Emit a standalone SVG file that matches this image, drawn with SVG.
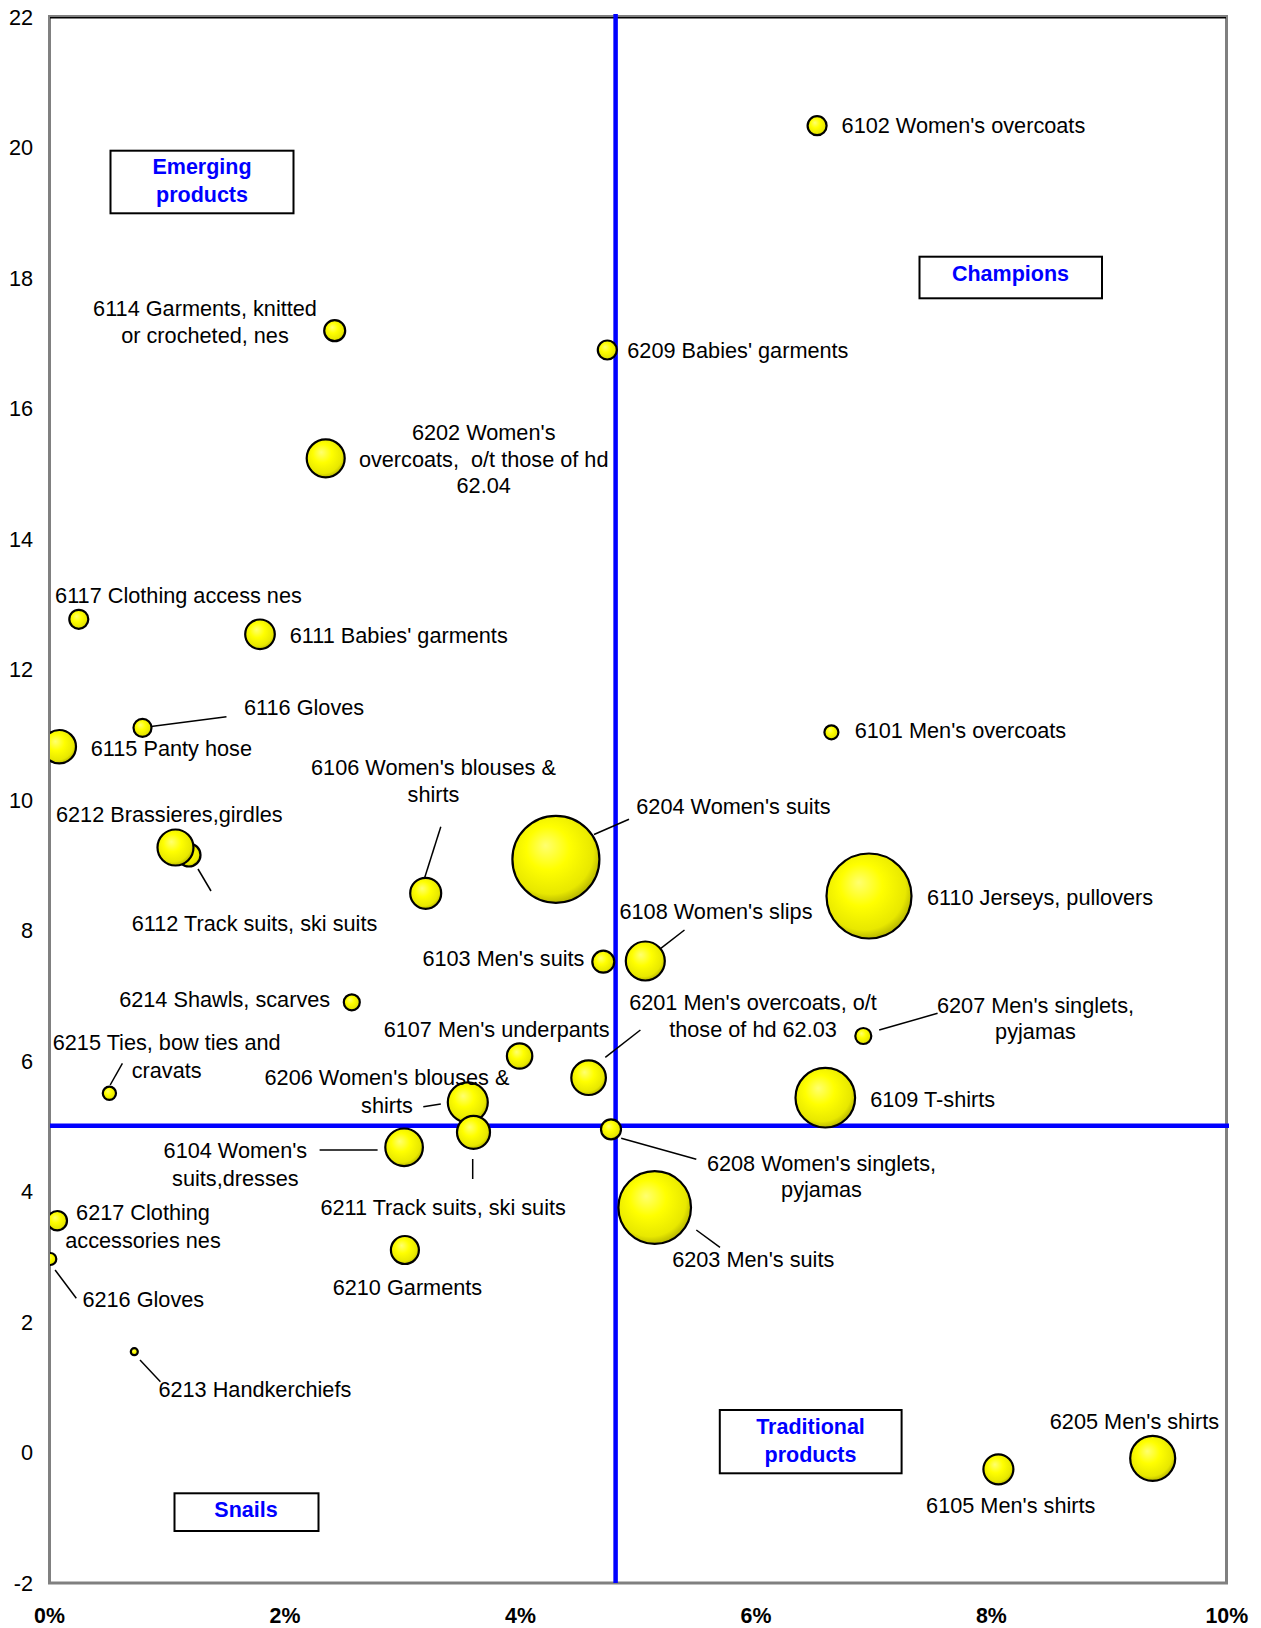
<svg xmlns="http://www.w3.org/2000/svg" width="1261" height="1628" viewBox="0 0 1261 1628">
<style>
text{font-family:"Liberation Sans",Arial,sans-serif;font-size:21.7px;fill:#000}
.m{text-anchor:middle}
.e{text-anchor:end}
.b{font-weight:bold;font-size:21.33px}
.q{font-weight:bold;font-size:21.5px;fill:#0000FF;text-anchor:middle}
.bub{fill:url(#yg);stroke:#000;stroke-width:2.2}
.lead{stroke:#000;stroke-width:1.5;fill:none}
.box{fill:#fff;stroke:#000;stroke-width:2}
.blue{stroke:#0000FF;stroke-width:4.5;fill:none}
</style>
<defs>
<radialGradient id="yg" cx="0.45" cy="0.42" r="0.62" fx="0.38" fy="0.34">
<stop offset="0" stop-color="#FFFF70"/>
<stop offset="0.4" stop-color="#FFFF00"/>
<stop offset="0.8" stop-color="#E8E800"/>
<stop offset="1" stop-color="#A8A800"/>
</radialGradient>
<clipPath id="plot"><rect x="50" y="17" width="1177" height="1566"/></clipPath>
</defs>
<rect x="0" y="0" width="1261" height="1628" fill="#fff"/>
<g id="frame">
<rect x="49.5" y="16.5" width="1177" height="1566.5" fill="#fff" stroke="#808080" stroke-width="3"/>
<line x1="50" y1="17.8" x2="1226" y2="17.8" stroke="#000" stroke-width="1.5"/>
</g>
<g id="axis-y">
<text class="e" x="33" y="24.9">22</text>
<text class="e" x="33" y="155.4">20</text>
<text class="e" x="33" y="285.9">18</text>
<text class="e" x="33" y="416.4">16</text>
<text class="e" x="33" y="546.9">14</text>
<text class="e" x="33" y="677.4">12</text>
<text class="e" x="33" y="807.9">10</text>
<text class="e" x="33" y="938.4">8</text>
<text class="e" x="33" y="1068.9">6</text>
<text class="e" x="33" y="1199.4">4</text>
<text class="e" x="33" y="1329.9">2</text>
<text class="e" x="33" y="1460.4">0</text>
<text class="e" x="33" y="1590.9">-2</text>
</g>
<g id="axis-x">
<text class="m b" x="49.5" y="1623.3">0%</text>
<text class="m b" x="285" y="1623.3">2%</text>
<text class="m b" x="520.5" y="1623.3">4%</text>
<text class="m b" x="756" y="1623.3">6%</text>
<text class="m b" x="991.3" y="1623.3">8%</text>
<text class="m b" x="1226.8" y="1623.3">10%</text>
</g>
<g id="quadrant-lines">
<line class="blue" x1="615.6" y1="14" x2="615.6" y2="1583"/>
<line class="blue" x1="50" y1="1125.7" x2="1229" y2="1125.7"/>
</g>
<g id="quadrant-emerging">
<rect class="box" x="110.5" y="150.7" width="183" height="62.6"/>
<text class="q" x="202" y="174.3">Emerging</text>
<text class="q" x="202" y="202.3">products</text>
</g>
<g id="quadrant-champions">
<rect class="box" x="919.5" y="256.7" width="182.5" height="41.6"/>
<text class="q" x="1010.5" y="281">Champions</text>
</g>
<g id="quadrant-snails">
<rect class="box" x="174.5" y="1493.3" width="144" height="37.7"/>
<text class="q" x="246" y="1516.7">Snails</text>
</g>
<g id="quadrant-traditional">
<rect class="box" x="719.8" y="1410" width="181.8" height="63.3"/>
<text class="q" x="810.5" y="1434.3">Traditional</text>
<text class="q" x="810.5" y="1461.7">products</text>
</g>
<g id="bubbles" clip-path="url(#plot)">
<g id="n6102"><circle class="bub" cx="817.1" cy="125.7" r="9.5"/></g>
<g id="n6114"><circle class="bub" cx="334.7" cy="330.7" r="10.5"/></g>
<g id="n6209"><circle class="bub" cx="607.3" cy="350" r="9.5"/></g>
<g id="n6202"><circle class="bub" cx="325.7" cy="458.3" r="19"/></g>
<g id="n6117"><circle class="bub" cx="78.8" cy="619.3" r="9.5"/></g>
<g id="n6111"><circle class="bub" cx="260" cy="634.3" r="14.8"/></g>
<g id="n6116"><circle class="bub" cx="142.5" cy="727.8" r="9"/></g>
<g id="n6115"><circle class="bub" cx="59.3" cy="746.7" r="16.7"/></g>
<g id="n6101"><circle class="bub" cx="831.4" cy="732.3" r="7"/></g>
<g id="n6112"><circle class="bub" cx="189" cy="855" r="11.5"/></g>
<g id="n6212"><circle class="bub" cx="175.5" cy="847.5" r="18"/></g>
<g id="n6106"><circle class="bub" cx="425.7" cy="893.3" r="15.5"/></g>
<g id="n6204"><circle class="bub" cx="555.9" cy="859.3" r="43.5"/></g>
<g id="n6110"><circle class="bub" cx="869" cy="896" r="42.5"/></g>
<g id="n6103"><circle class="bub" cx="603.3" cy="961.7" r="11"/></g>
<g id="n6108"><circle class="bub" cx="645.3" cy="961" r="19.5"/></g>
<g id="n6214"><circle class="bub" cx="351.8" cy="1002.3" r="8"/></g>
<g id="n6207"><circle class="bub" cx="863.3" cy="1036" r="8"/></g>
<g id="n6107"><circle class="bub" cx="519.6" cy="1056" r="12.7"/></g>
<g id="n6201"><circle class="bub" cx="588.6" cy="1077.7" r="17.3"/></g>
<g id="n6215"><circle class="bub" cx="109.4" cy="1093.3" r="6.6"/></g>
<g id="n6109"><circle class="bub" cx="825.3" cy="1097.7" r="29.8"/></g>
<g id="n6206"><circle class="bub" cx="467.8" cy="1102.3" r="20"/></g>
<g id="n6208"><circle class="bub" cx="611" cy="1129.3" r="10"/></g>
<g id="n6211"><circle class="bub" cx="473.5" cy="1132.3" r="16.5"/></g>
<g id="n6104"><circle class="bub" cx="404.1" cy="1147.3" r="18.8"/></g>
<g id="n6203"><circle class="bub" cx="654.7" cy="1207.5" r="36.3"/></g>
<g id="n6217"><circle class="bub" cx="57.3" cy="1220.7" r="9.7"/></g>
<g id="n6210"><circle class="bub" cx="404.9" cy="1250" r="14"/></g>
<g id="n6216"><circle class="bub" cx="50.3" cy="1259" r="6"/></g>
<g id="n6213"><circle class="bub" cx="134.3" cy="1351.7" r="3.5"/></g>
<g id="n6205"><circle class="bub" cx="1152.7" cy="1458.3" r="22.5"/></g>
<g id="n6105"><circle class="bub" cx="998.4" cy="1469.3" r="15"/></g>
</g>
<g id="connectors">
<line class="lead" x1="151" y1="726.5" x2="226.5" y2="716.7"/>
<line class="lead" x1="198" y1="869" x2="211" y2="891"/>
<line class="lead" x1="424.5" y1="878.3" x2="440.8" y2="826.7"/>
<line class="lead" x1="594" y1="834.5" x2="629" y2="819.3"/>
<line class="lead" x1="660.8" y1="948.3" x2="684.5" y2="930"/>
<line class="lead" x1="879.2" y1="1030" x2="937.6" y2="1013.3"/>
<line class="lead" x1="605.3" y1="1057.3" x2="640.4" y2="1030"/>
<line class="lead" x1="110.2" y1="1085" x2="122.4" y2="1063.3"/>
<line class="lead" x1="423.3" y1="1106.7" x2="440.8" y2="1104"/>
<line class="lead" x1="472.7" y1="1159" x2="472.7" y2="1179"/>
<line class="lead" x1="319.6" y1="1150" x2="377.6" y2="1150"/>
<line class="lead" x1="621.2" y1="1138.3" x2="696.3" y2="1159.3"/>
<line class="lead" x1="696.3" y1="1230" x2="720" y2="1247.3"/>
<line class="lead" x1="55.1" y1="1270" x2="76.3" y2="1298.3"/>
<line class="lead" x1="140" y1="1360" x2="160.4" y2="1381.7"/>
</g>
<g id="labels">
<text id="t6102" x="841.6" y="133.3">6102 Women's overcoats</text>
<text id="t6114" class="m"><tspan x="205" y="316">6114 Garments, knitted</tspan><tspan x="205" y="342.7">or crocheted, nes</tspan></text>
<text id="t6209" x="627.3" y="358.3">6209 Babies' garments</text>
<text id="t6202" class="m" xml:space="preserve"><tspan x="483.7" y="440">6202 Women's</tspan><tspan x="483.7" y="466.7">overcoats,  o/t those of hd</tspan><tspan x="483.7" y="493.3">62.04</tspan></text>
<text id="t6117" x="55.1" y="602.7">6117 Clothing access nes</text>
<text id="t6111" x="289.8" y="643.3">6111 Babies' garments</text>
<text id="t6116" x="244" y="715.3">6116 Gloves</text>
<text id="t6115" x="90.8" y="755.7">6115 Panty hose</text>
<text id="t6101" x="854.7" y="738.3">6101 Men's overcoats</text>
<text id="t6106" class="m"><tspan x="433.5" y="775">6106 Women's blouses &amp;</tspan><tspan x="433.5" y="801.7">shirts</tspan></text>
<text id="t6204" x="636.3" y="813.5">6204 Women's suits</text>
<text id="t6212" x="56" y="821.7">6212 Brassieres,girdles</text>
<text id="t6110" x="926.9" y="905">6110 Jerseys, pullovers</text>
<text id="t6112" x="131.8" y="930.7">6112 Track suits, ski suits</text>
<text id="t6108" x="619.5" y="919.3">6108 Women's slips</text>
<text id="t6103" x="422.4" y="965.7">6103 Men's suits</text>
<text id="t6214" x="119.2" y="1006.7">6214 Shawls, scarves</text>
<text id="t6201" class="m"><tspan x="753" y="1010">6201 Men's overcoats, o/t</tspan><tspan x="753" y="1037.3">those of hd 62.03</tspan></text>
<text id="t6207" class="m"><tspan x="1035.5" y="1012.7">6207 Men's singlets,</tspan><tspan x="1035.5" y="1039.3">pyjamas</tspan></text>
<text id="t6107" x="383.7" y="1036.7">6107 Men's underpants</text>
<text id="t6215" class="m"><tspan x="166.7" y="1050">6215 Ties, bow ties and</tspan><tspan x="166.7" y="1077.7">cravats</tspan></text>
<text id="t6206" class="m"><tspan x="387" y="1085">6206 Women's blouses &amp;</tspan><tspan x="387" y="1112.7">shirts</tspan></text>
<text id="t6109" x="870.2" y="1106.7">6109 T-shirts</text>
<text id="t6104" class="m"><tspan x="235.4" y="1158.3">6104 Women's</tspan><tspan x="235.4" y="1186">suits,dresses</tspan></text>
<text id="t6208" class="m"><tspan x="821.5" y="1170.7">6208 Women's singlets,</tspan><tspan x="821.5" y="1197.3">pyjamas</tspan></text>
<text id="t6211" x="320.4" y="1215">6211 Track suits, ski suits</text>
<text id="t6217" class="m"><tspan x="143" y="1220">6217 Clothing</tspan><tspan x="143" y="1247.7">accessories nes</tspan></text>
<text id="t6203" x="672.2" y="1266.7">6203 Men's suits</text>
<text id="t6210" x="332.7" y="1295">6210 Garments</text>
<text id="t6216" x="82.4" y="1307.3">6216 Gloves</text>
<text id="t6213" x="158.4" y="1396.7">6213 Handkerchiefs</text>
<text id="t6205" x="1049.8" y="1429">6205 Men's shirts</text>
<text id="t6105" x="926.1" y="1513.3">6105 Men's shirts</text>
</g>
</svg>
